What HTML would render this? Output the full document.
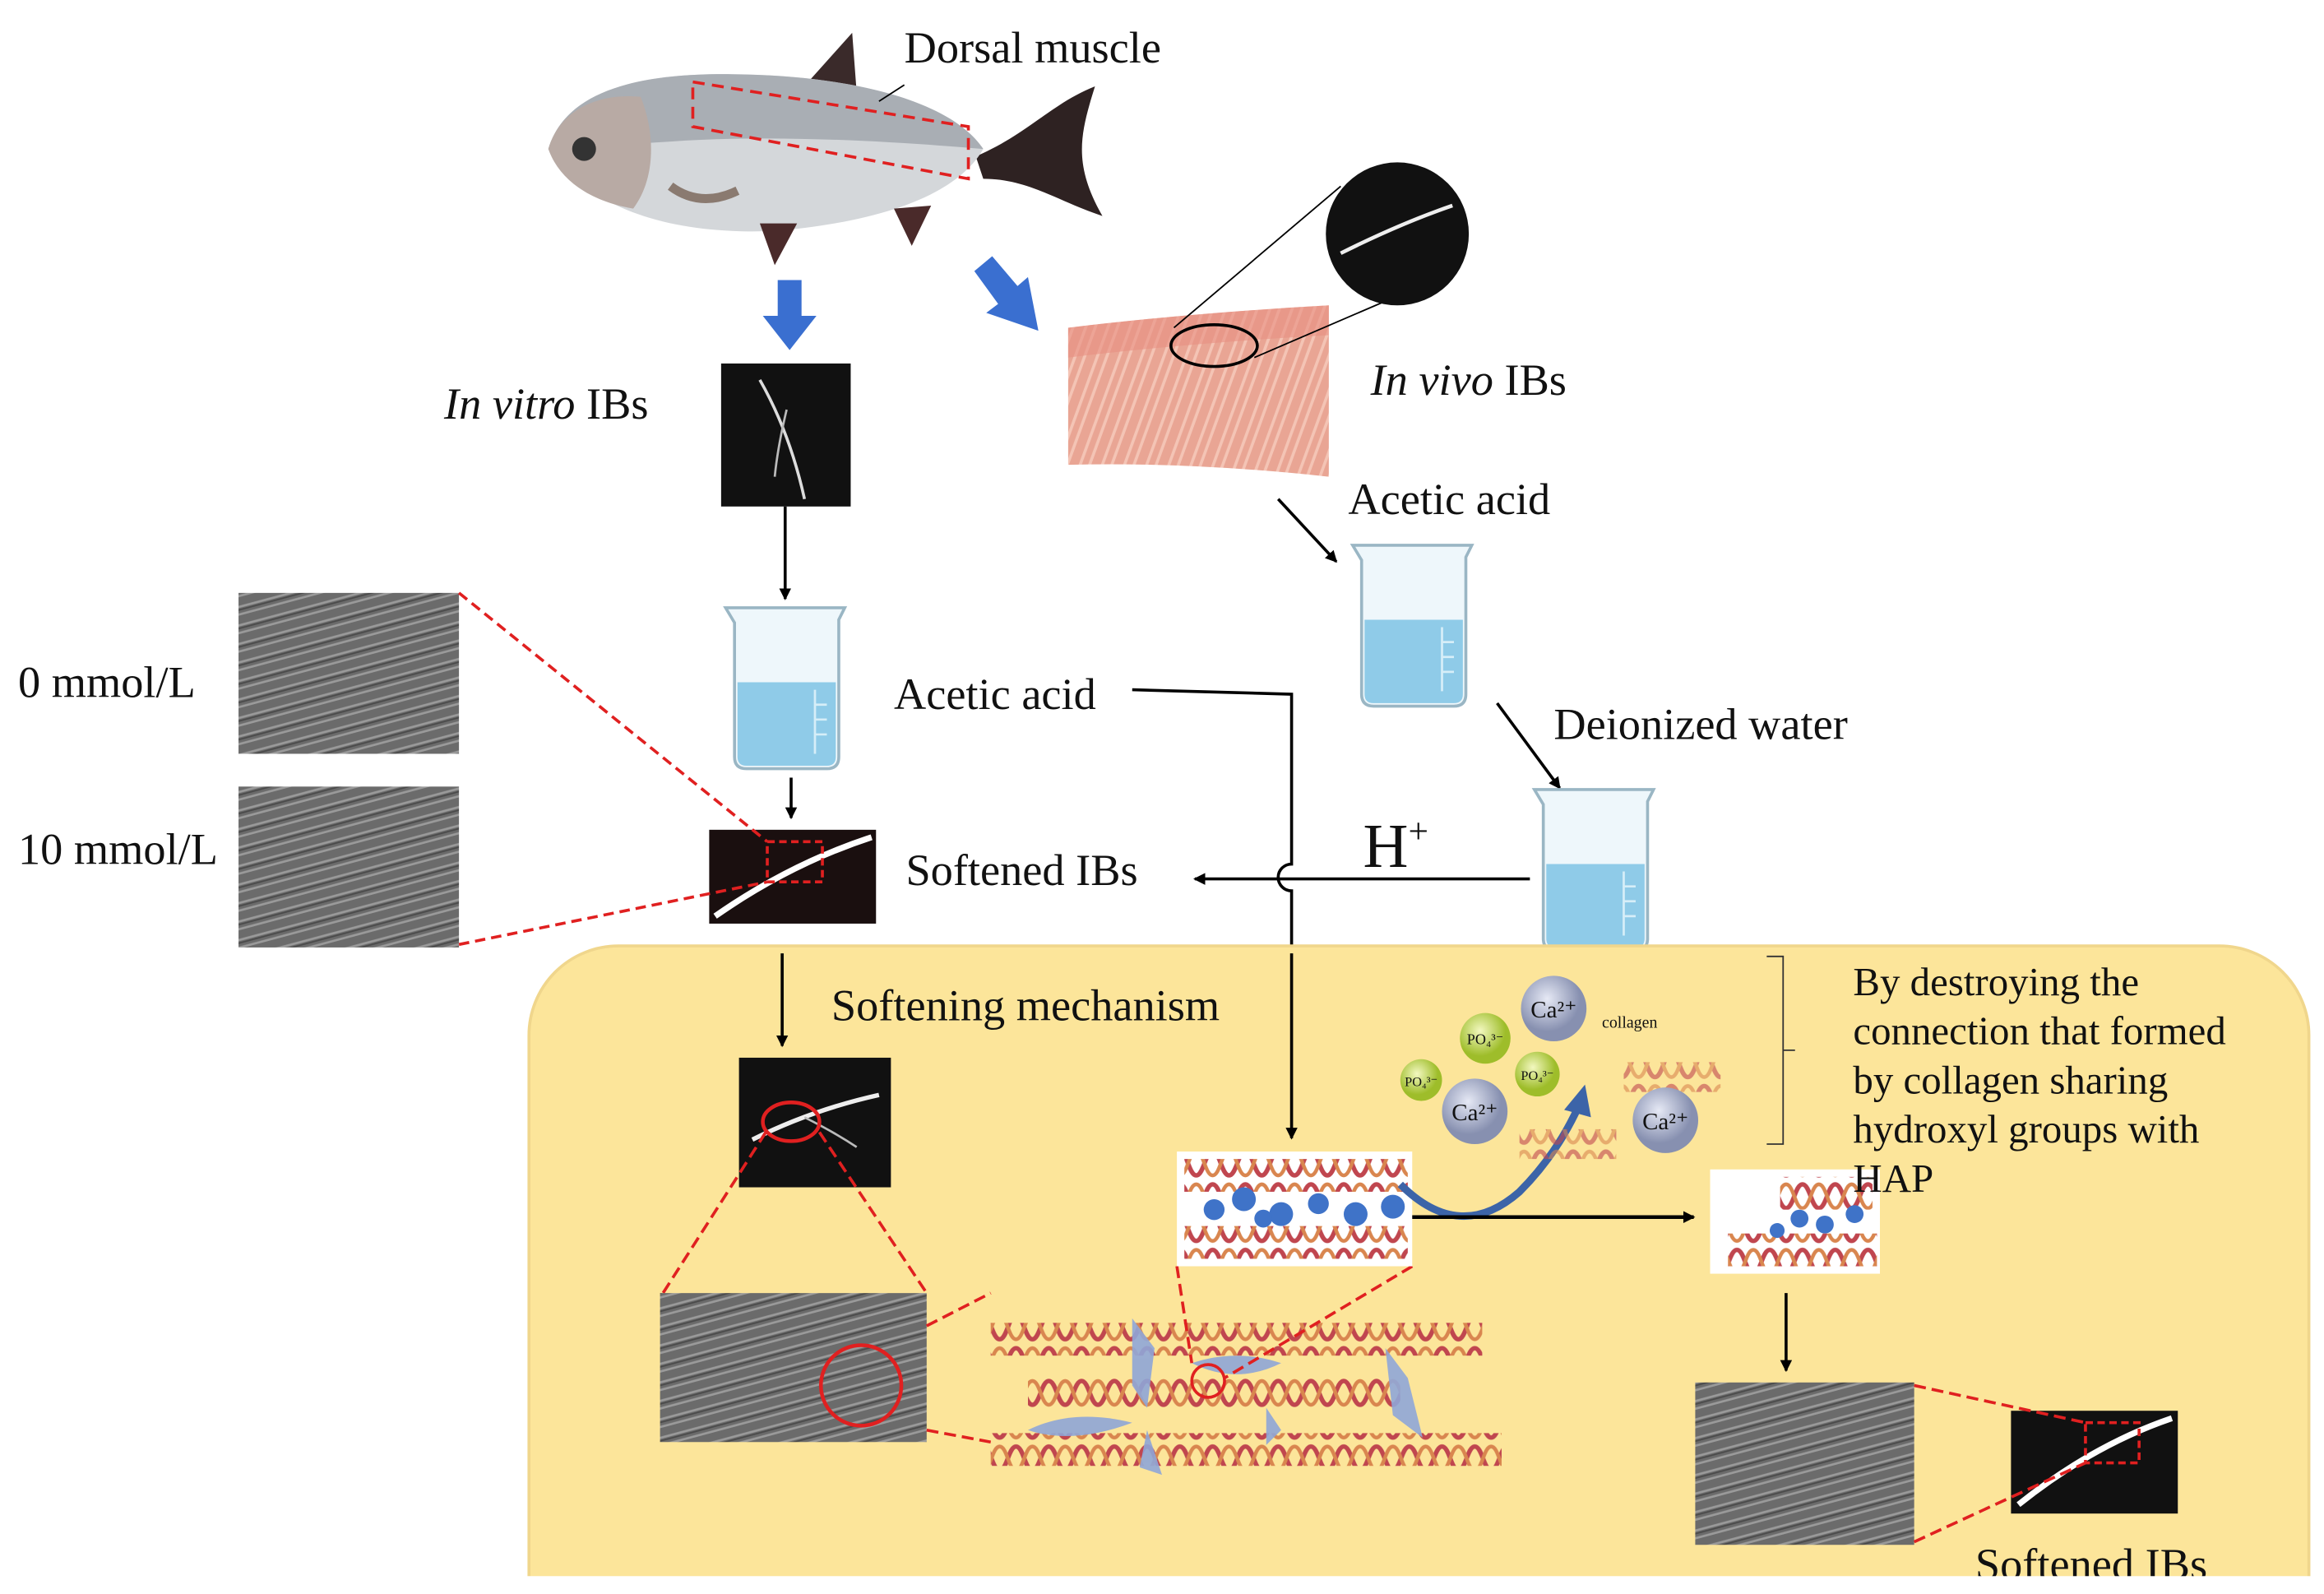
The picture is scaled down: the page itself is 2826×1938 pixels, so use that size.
<!DOCTYPE html>
<html><head><meta charset="utf-8"><style>
html,body{margin:0;padding:0;background:#fff;overflow:hidden;width:2826px;height:1938px}
svg{display:block}
text{font-family:"Liberation Serif",serif;fill:#111}
</style></head><body>
<svg width="2826" height="1938" viewBox="0 0 1560 1070" xmlns="http://www.w3.org/2000/svg">
<defs>
<marker id="ah" markerWidth="8" markerHeight="8" refX="7" refY="4" orient="auto" markerUnits="userSpaceOnUse"><path d="M0,0L8,4L0,8z" fill="#000"/></marker>
<pattern id="helix" width="22" height="22" patternUnits="userSpaceOnUse">
<path d="M0,3 C5,3 6,19 11,19 C16,19 17,3 22,3" stroke="#c0464f" stroke-width="3" fill="none"/>
<path d="M0,19 C5,19 6,3 11,3 C16,3 17,19 22,19" stroke="#d9864f" stroke-width="2.5" fill="none"/>
</pattern>
<pattern id="sem" width="20" height="12" patternUnits="userSpaceOnUse" patternTransform="rotate(-15)">
<rect width="20" height="12" fill="#6b6b6b"/>
<path d="M0,3H20M0,8H20" stroke="#9a9a9a" stroke-width="1.5"/>
<path d="M0,5H20" stroke="#4a4a4a" stroke-width="1"/>
</pattern>
<pattern id="fil" width="14" height="14" patternUnits="userSpaceOnUse" patternTransform="rotate(-70)">
<rect width="14" height="14" fill="#e9a594"/>
<path d="M0,4H14M0,10H14" stroke="#f4c4b5" stroke-width="2"/>
</pattern>
<radialGradient id="ca" cx="40%" cy="35%"><stop offset="0" stop-color="#e6e9f5"/><stop offset="1" stop-color="#8790b0"/></radialGradient>
<radialGradient id="po" cx="40%" cy="35%"><stop offset="0" stop-color="#f3f8c0"/><stop offset="1" stop-color="#9ebd2a"/></radialGradient>
<g id="beaker">
<path d="M0,0 H80 L76,8 V100 Q76,108 68,108 H14 Q6,108 6,100 V10 Z" fill="#eef7fb" stroke="#9ab6c4" stroke-width="2"/>
<path d="M8,50 H74 V100 Q74,106 68,106 H14 Q8,106 8,100 Z" fill="#8fcbe8"/>
<path d="M60,55V98M60,65h8M60,75h8M60,85h8" stroke="#d6eef8" stroke-width="1.5"/>
</g>
</defs>

<!-- Fish -->
<path d="M538,60 L572,22 L575,62 Z" fill="#3a2a2a"/>
<path d="M655,105 C690,90 705,70 735,58 C725,90 720,110 740,145 C710,135 690,120 660,120 Z" fill="#2e2222"/>
<path d="M368,100 C380,60 430,48 500,50 C580,52 640,70 660,100 C640,135 580,150 520,155 C450,158 395,140 368,100 Z" fill="#d4d7da"/>
<path d="M368,100 C380,60 430,48 500,50 C580,52 640,70 660,100 C600,95 520,90 450,95 Z" fill="#a9aeb4"/>
<path d="M368,100 C375,75 400,62 430,65 C440,90 440,120 425,140 C395,135 375,120 368,100 Z" fill="#b8aaa4"/>
<circle cx="392" cy="100" r="8" fill="#333"/>
<path d="M510,150 L520,178 L535,150 Z" fill="#4a2a2a"/>
<path d="M600,140 L612,165 L625,138 Z" fill="#4a2a2a"/>
<path d="M450,125 Q470,140 495,128" stroke="#8a7a70" stroke-width="6" fill="none"/>
<path d="M465,55 L650,85 L650,120 L465,85 Z" fill="none" stroke="#e02020" stroke-width="2" stroke-dasharray="8,5"/>
<line x1="590" y1="68" x2="607" y2="57" stroke="#000" stroke-width="1"/>
<text x="607" y="42" font-size="30">Dorsal muscle</text>

<!-- blue arrows -->
<path d="M522,188 H538 V212 H548 L530,235 L512,212 H522 Z" fill="#3a6fd0"/>
<path d="M654,182 L666,172 L683,192 L690,186 L697,222 L662,210 L670,204 Z" fill="#3a6fd0"/>

<!-- in vitro -->
<rect x="484" y="244" width="87" height="96" fill="#111"/>
<path d="M510,255 Q530,290 540,335" stroke="#ddd" stroke-width="2" fill="none"/>
<path d="M528,275 Q522,300 520,320" stroke="#bbb" stroke-width="1.5" fill="none"/>
<text x="298" y="281" font-size="30"><tspan font-style="italic">In vitro</tspan> IBs</text>

<!-- fillet -->
<path d="M717,220 Q800,210 892,205 V320 Q800,310 717,312 Z" fill="url(#fil)"/>
<path d="M717,220 Q800,210 892,205 V225 Q800,230 717,240 Z" fill="#e88f82" opacity=".6"/>
<ellipse cx="815" cy="232" rx="29" ry="14" fill="none" stroke="#000" stroke-width="2"/>
<line x1="788" y1="220" x2="900" y2="125" stroke="#000" stroke-width="1"/>
<line x1="842" y1="240" x2="935" y2="200" stroke="#000" stroke-width="1"/>
<circle cx="938" cy="157" r="48" fill="#111"/>
<path d="M900,170 Q940,150 975,138" stroke="#eee" stroke-width="2.5" fill="none"/>
<text x="920" y="265" font-size="30"><tspan font-style="italic">In vivo</tspan> IBs</text>

<!-- arrows left column -->
<line x1="527" y1="340" x2="527" y2="402" stroke="#000" stroke-width="2" marker-end="url(#ah)"/>
<use href="#beaker" x="487" y="408"/>
<text x="600" y="476" font-size="30">Acetic acid</text>
<path d="M760,463 L867,466 V580 A8,8 0 0 0 867,598 V764" fill="none" stroke="#000" stroke-width="2" marker-end="url(#ah)"/>

<line x1="858" y1="335" x2="897" y2="377" stroke="#000" stroke-width="2" marker-end="url(#ah)"/>
<text x="905" y="345" font-size="30">Acetic acid</text>
<use href="#beaker" x="908" y="366"/>
<line x1="1005" y1="472" x2="1047" y2="529" stroke="#000" stroke-width="2" marker-end="url(#ah)"/>
<text x="1043" y="496" font-size="30">Deionized water</text>
<use href="#beaker" x="1030" y="530"/>
<text x="915" y="582" font-size="42">H<tspan font-size="24" dy="-16">+</tspan></text>
<line x1="1027" y1="590" x2="802" y2="590" stroke="#000" stroke-width="2" marker-end="url(#ah)"/>
<text x="608" y="594" font-size="30">Softened IBs</text>

<line x1="531" y1="522" x2="531" y2="549" stroke="#000" stroke-width="2" marker-end="url(#ah)"/>
<rect x="476" y="557" width="112" height="63" fill="#1a0f0f"/>
<path d="M480,615 Q530,580 585,562" stroke="#fff" stroke-width="4" fill="none"/>
<rect x="515" y="565" width="37" height="27" fill="none" stroke="#e02020" stroke-width="2" stroke-dasharray="5,3"/>

<!-- SEM -->
<rect x="160" y="398" width="148" height="108" fill="url(#sem)"/>
<rect x="160" y="528" width="148" height="108" fill="url(#sem)"/>
<text x="12" y="468" font-size="30">0 mmol/L</text>
<text x="12" y="580" font-size="30">10 mmol/L</text>
<line x1="308" y1="398" x2="515" y2="565" stroke="#e02020" stroke-width="2" stroke-dasharray="7,4"/>
<line x1="308" y1="634" x2="515" y2="592" stroke="#e02020" stroke-width="2" stroke-dasharray="7,4"/>

<!-- yellow panel -->
<rect x="355" y="635" width="1195" height="500" rx="60" fill="#fce59a" stroke="#f0d68c" stroke-width="2"/>
<line x1="867" y1="640" x2="867" y2="764" stroke="#000" stroke-width="2" marker-end="url(#ah)"/>
<line x1="525" y1="640" x2="525" y2="702" stroke="#000" stroke-width="2" marker-end="url(#ah)"/>
<text x="558" y="685" font-size="30">Softening mechanism</text>

<rect x="496" y="710" width="102" height="87" fill="#111"/>
<path d="M505,765 Q545,745 590,735" stroke="#eee" stroke-width="3" fill="none"/>
<path d="M540,750 Q560,760 575,770" stroke="#bbb" stroke-width="1.5" fill="none"/>
<ellipse cx="531" cy="753" rx="19" ry="13" fill="none" stroke="#e02020" stroke-width="2.5"/>
<line x1="514" y1="760" x2="445" y2="868" stroke="#e02020" stroke-width="2" stroke-dasharray="8,4"/>
<line x1="550" y1="760" x2="622" y2="868" stroke="#e02020" stroke-width="2" stroke-dasharray="8,4"/>
<rect x="443" y="868" width="179" height="100" fill="url(#sem)"/>
<circle cx="578" cy="930" r="27" fill="none" stroke="#e02020" stroke-width="2.5"/>
<line x1="622" y1="890" x2="665" y2="868" stroke="#e02020" stroke-width="2" stroke-dasharray="8,4"/>
<line x1="622" y1="960" x2="665" y2="968" stroke="#e02020" stroke-width="2" stroke-dasharray="8,4"/>

<!-- collagen strands -->
<rect x="665" y="888" width="330" height="22" fill="url(#helix)"/>
<rect x="690" y="925" width="250" height="22" fill="url(#helix)"/>
<rect x="665" y="962" width="343" height="22" fill="url(#helix)"/>
<g fill="#8fa6d8" opacity=".9">
<path d="M760,885 L775,905 L770,945 L760,930 Z"/>
<path d="M800,915 Q830,905 860,915 Q830,930 800,915 Z"/>
<path d="M690,960 Q720,945 760,955 Q720,970 690,960 Z"/>
<path d="M930,905 L945,925 L955,965 L935,950 Z"/>
<path d="M770,960 L780,990 L765,985 Z"/>
<path d="M850,945 L860,960 L850,970 Z"/>
</g>
<circle cx="811" cy="927" r="11" fill="none" stroke="#e02020" stroke-width="2"/>
<line x1="790" y1="850" x2="800" y2="915" stroke="#e02020" stroke-width="2" stroke-dasharray="8,4"/>
<line x1="948" y1="850" x2="822" y2="925" stroke="#e02020" stroke-width="2" stroke-dasharray="8,4"/>

<!-- collagen box -->
<rect x="790" y="773" width="158" height="77" fill="#fff"/>
<rect x="795" y="778" width="150" height="22" fill="url(#helix)"/>
<rect x="795" y="823" width="150" height="22" fill="url(#helix)"/>
<g fill="#3f73c8">
<circle cx="815" cy="812" r="7"/><circle cx="835" cy="805" r="8"/><circle cx="860" cy="815" r="8"/><circle cx="885" cy="808" r="7"/><circle cx="910" cy="815" r="8"/><circle cx="935" cy="810" r="8"/><circle cx="848" cy="818" r="6"/>
</g>
<path d="M940,795 Q980,835 1020,800 Q1045,775 1060,742" stroke="#3c64a8" stroke-width="5" fill="none"/>
<path d="M1050,745 L1064,728 L1068,750 Z" fill="#3c64a8"/>
<line x1="948" y1="817" x2="1137" y2="817" stroke="#000" stroke-width="2.5" marker-end="url(#ah)"/>
<rect x="1148" y="785" width="114" height="70" fill="#fff"/>
<rect x="1195" y="790" width="62" height="22" fill="url(#helix)"/>
<rect x="1160" y="828" width="100" height="22" fill="url(#helix)"/>
<g fill="#3f73c8"><circle cx="1208" cy="818" r="6"/><circle cx="1225" cy="822" r="6"/><circle cx="1245" cy="815" r="6"/><circle cx="1193" cy="826" r="5"/></g>

<!-- ions -->
<rect x="1090" y="713" width="65" height="20" fill="url(#helix)" opacity=".6"/>
<rect x="1020" y="758" width="65" height="20" fill="url(#helix)" opacity=".6"/>
<g text-anchor="middle">
<circle cx="1043" cy="677" r="22" fill="url(#ca)"/><text x="1043" y="683" font-size="16">Ca²⁺</text>
<circle cx="997" cy="697" r="17" fill="url(#po)"/><text x="997" y="701" font-size="10">PO₄³⁻</text>
<circle cx="954" cy="725" r="14" fill="url(#po)"/><text x="954" y="729" font-size="9">PO₄³⁻</text>
<circle cx="1032" cy="721" r="15" fill="url(#po)"/><text x="1032" y="725" font-size="9">PO₄³⁻</text>
<circle cx="990" cy="746" r="22" fill="url(#ca)"/><text x="990" y="752" font-size="16">Ca²⁺</text>
<circle cx="1118" cy="752" r="22" fill="url(#ca)"/><text x="1118" y="758" font-size="16">Ca²⁺</text>
<text x="1094" y="690" font-size="11">collagen</text>
</g>
<path d="M1186,642 H1197 V768 H1186 M1197,705 H1205" stroke="#333" stroke-width="1" fill="none"/>
<g font-size="27">
<text x="1244" y="668">By destroying the</text>
<text x="1244" y="701">connection that formed</text>
<text x="1244" y="734">by collagen sharing</text>
<text x="1244" y="767">hydroxyl groups with</text>
<text x="1244" y="800">HAP</text>
</g>

<line x1="1199" y1="868" x2="1199" y2="920" stroke="#000" stroke-width="2" marker-end="url(#ah)"/>
<rect x="1138" y="928" width="147" height="109" fill="url(#sem)"/>
<rect x="1350" y="947" width="112" height="69" fill="#111"/>
<path d="M1355,1010 Q1405,970 1458,952" stroke="#fff" stroke-width="4" fill="none"/>
<rect x="1400" y="955" width="36" height="27" fill="none" stroke="#e02020" stroke-width="2" stroke-dasharray="5,3"/>
<line x1="1285" y1="930" x2="1400" y2="955" stroke="#e02020" stroke-width="2" stroke-dasharray="8,4"/>
<line x1="1285" y1="1035" x2="1400" y2="982" stroke="#e02020" stroke-width="2" stroke-dasharray="8,4"/>
<text x="1326" y="1060" font-size="30">Softened IBs</text>
<rect x="0" y="1058" width="1560" height="12" fill="#fff"/>
</svg>
</body></html>
